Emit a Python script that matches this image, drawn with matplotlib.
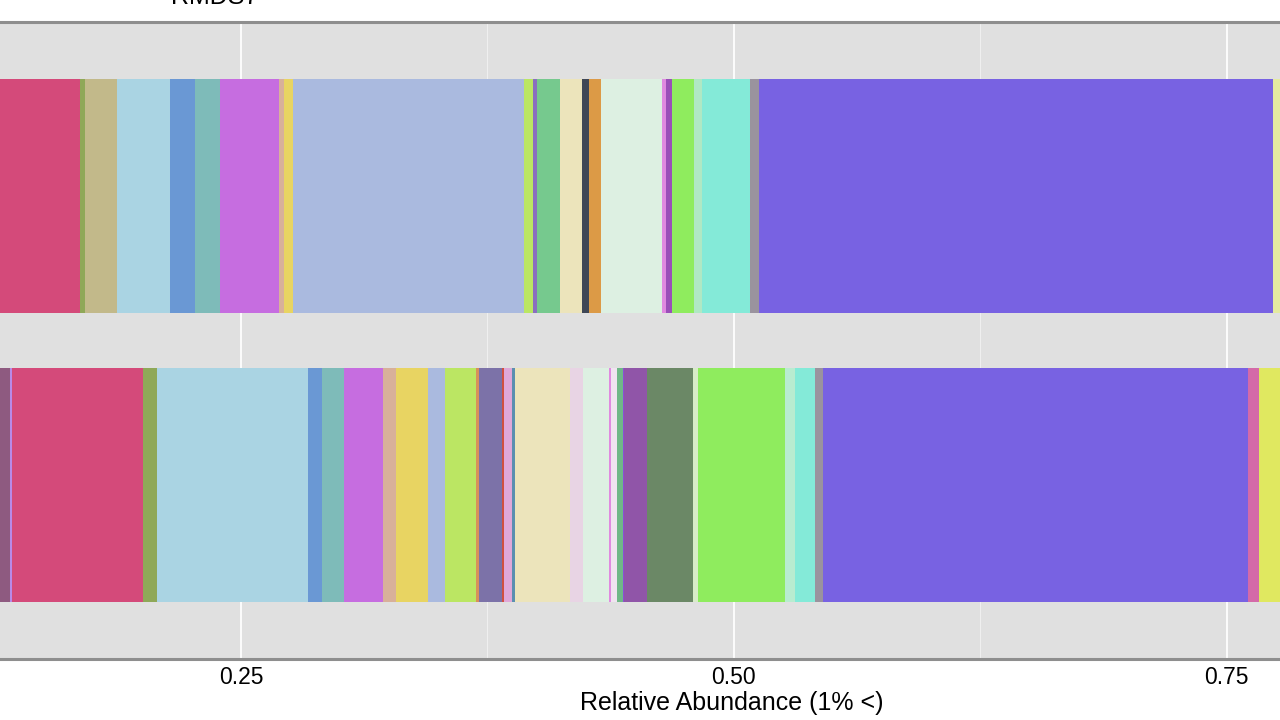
import numpy as np
import matplotlib
matplotlib.use("Agg")
import matplotlib.pyplot as plt
from matplotlib.ticker import MultipleLocator

plt.rcParams['font.family'] = ['Liberation Sans', 'DejaVu Sans']

# Sample labels (bottom -> top)
samples = ["Sample B", "Sample A"]

# Top bar (Sample A): relative abundances (stacked left to right)
top_vals = [0.1683, 0.0026, 0.0162, 0.0270, 0.0126, 0.0126, 0.0301, 0.0024,
            0.0047, 0.1171, 0.0047, 0.0019, 0.0118, 0.0109, 0.0038, 0.0058,
            0.0311, 0.0020, 0.0029, 0.0113, 0.0039, 0.0245, 0.0044, 0.2611,
            0.0300]
top_cols = ["#D44A7A", "#8FA858", "#C2B98A", "#AAD4E3", "#6A98D4", "#7EBBB9",
            "#C66DE0", "#D8B09A", "#E8D462", "#AABADF", "#BBE663", "#8A6FC0",
            "#76C98E", "#ECE4BB", "#3F4756", "#DC9A46", "#DDF0E2", "#E08AE0",
            "#9A4FB8", "#8FEC5E", "#B0E8C4", "#84EAD8", "#9A939E", "#7862E2",
            "#E4EAA0"]

# Bottom bar (Sample B)
bot_vals = [0.1328, 0.0010, 0.0663, 0.0073, 0.0767, 0.0072, 0.0110, 0.0199,
            0.0063, 0.0164, 0.0088, 0.0155, 0.0014, 0.0117, 0.0011, 0.0039,
            0.0019, 0.0277, 0.0065, 0.0132, 0.0011, 0.0031, 0.0029, 0.0006,
            0.0119, 0.0230, 0.0028, 0.0440, 0.0052, 0.0099, 0.0043, 0.2154,
            0.0057, 0.0300]
bot_cols = ["#8E5A80", "#B88AE8", "#D44A7A", "#8FA858", "#AAD4E3", "#6A98D4",
            "#7EBBB9", "#C66DE0", "#D8B09A", "#E8D462", "#AABADF", "#BBE663",
            "#D8905A", "#7C72A8", "#D05040", "#E0A8D8", "#5A8FB0", "#ECE4BB",
            "#E8D4E4", "#DDF0E2", "#E08AE0", "#F0E4F0", "#70B888", "#8A50D8",
            "#9055A8", "#6B8866", "#D8ECC8", "#8FEC5E", "#B8ECD0", "#84EAD8",
            "#9A939E", "#7862E2", "#D46AA8", "#E0E860"]

x_ticks = [0.25, 0.50, 0.75]
x_labels = ["0.25", "0.50", "0.75"]

fig = plt.figure(figsize=(12.8, 7.2), dpi=100)
ax = fig.add_axes([0.0, 61/720, 1.0, 637/720])
ax.set_facecolor("#E0E0E0")

for ypos, vals, cols in [(1, bot_vals, bot_cols), (2, top_vals, top_cols)]:
    lefts = np.concatenate([[0], np.cumsum(vals)[:-1]])
    ax.barh([ypos] * len(vals), vals, left=lefts, color=cols, height=0.807,
            edgecolor="none", zorder=3)

ax.set_xlim(0.12773, 0.77714)
ax.set_ylim(0.4, 2.6)
ax.set_xticks(x_ticks)
ax.set_xticklabels(x_labels, fontsize=16.5)
ax.xaxis.set_minor_locator(MultipleLocator(0.125))
ax.tick_params(axis='x', which='both', length=0, pad=5)
ax.set_yticks([])
ax.grid(which='major', axis='x', color='white', lw=1.3, zorder=0)
ax.grid(which='minor', axis='x', color='#F2F2F2', lw=0.6, zorder=0)
ax.set_axisbelow(True)
for s in ['left', 'right']:
    ax.spines[s].set_visible(False)
for s in ['top', 'bottom']:
    ax.spines[s].set_color('#8E8E8E')
    ax.spines[s].set_linewidth(2.2)

fig.text(732/1280, 1 - 703/720, "Relative Abundance (1% <)", fontsize=18,
         ha='center', va='center')
fig.text(215/1280, 1 - 4/720, "RMDS7", fontsize=18, ha='center', va='baseline')

fig.savefig("out.png", dpi=100)
